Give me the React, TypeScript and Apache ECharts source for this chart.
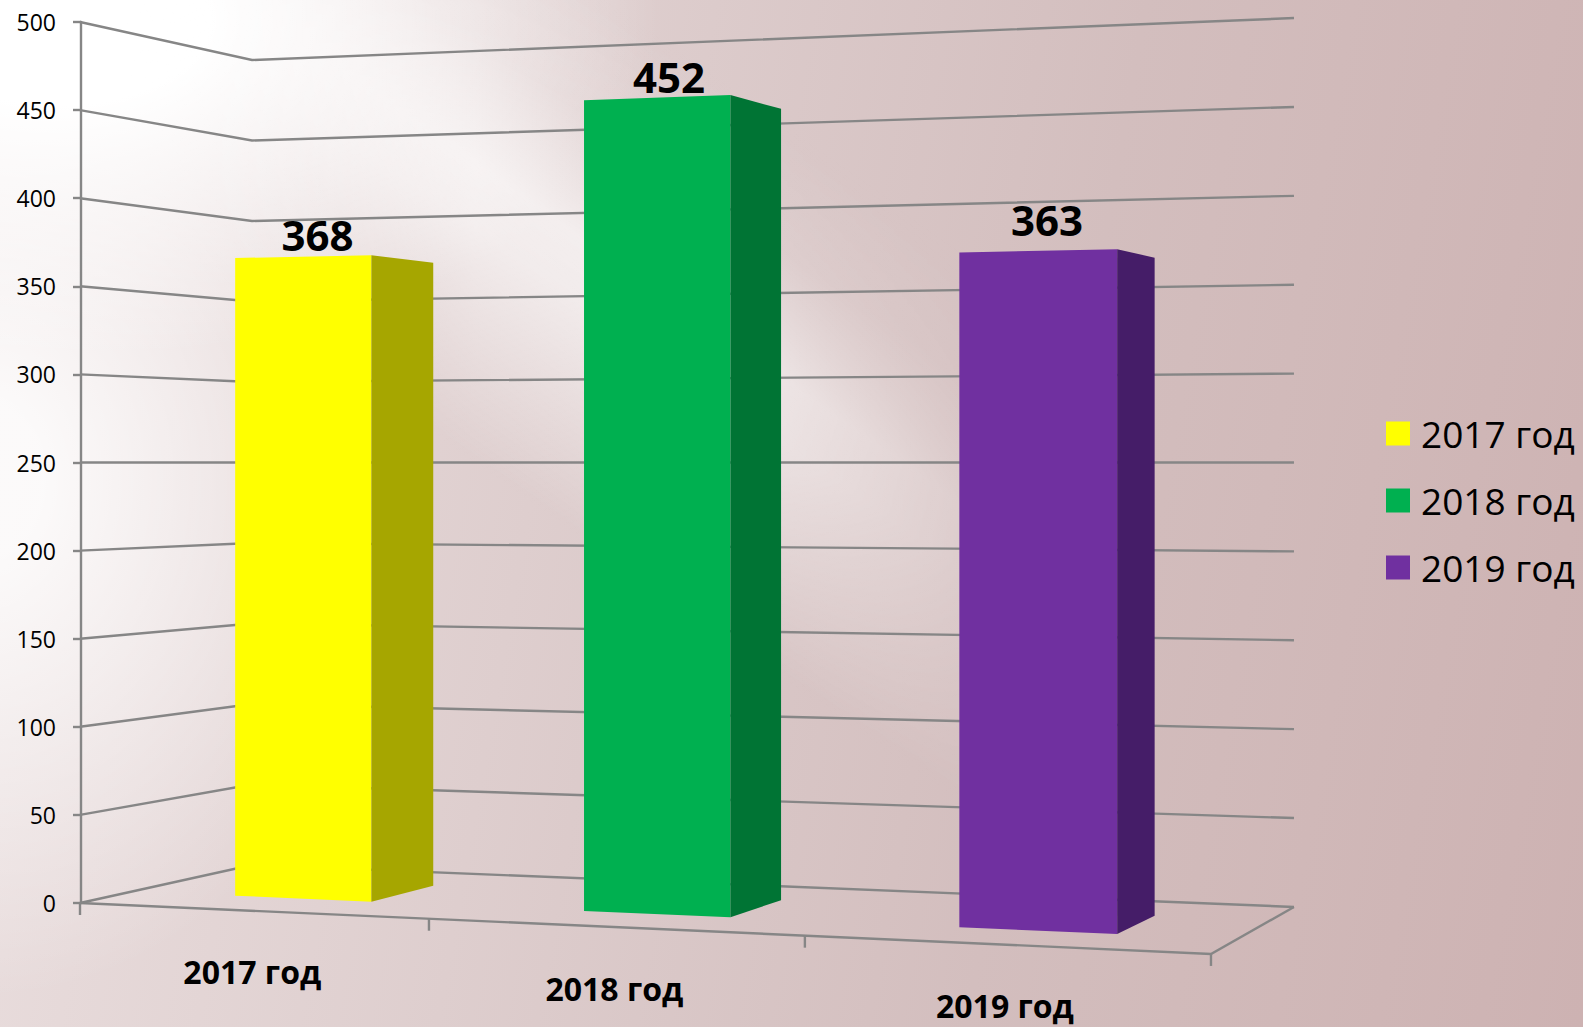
import React, { useEffect, useRef } from "react";
import * as echarts from "echarts";

const categories = ["2017 год", "2018 год", "2019 год"];
const seriesValues = [368, 452, 363];
const yTicks = [0, 50, 100, 150, 200, 250, 300, 350, 400, 450, 500];
const frontColors = ["#FFFF00", "#00B050", "#7030A0"];
const sideColors = ["#A6A600", "#007434", "#451D68"];

const W = 1583, H = 1027;
const GL = 81, GT = 22, GW = 1213, GH = 881;
const FONT = "'Open Sans', 'Noto Sans', sans-serif";
const LINE = "#868686";
const LINE_W = 2.4;
const LABEL_LIFT = [24, 24, 33];

// floor plane perspective (unit square onto screen), verticals stay vertical
function project(u: number, v: number, h: number) {
  const g = -0.1075, k = 0.094;
  const den = g * u + k * v + 1;
  const x = (1000.8 * u + 195.7 * v + 80) / den;
  const y0 = (-51.6 * u + 43.3 * v + 903) / den;
  const scale = 2 * y0 - 925;
  return [x, y0 - scale * h];
}

const BAR_HALF = 0.0665, BAR_SHIFT = 0.002, V_FRONT = 0.29, V_BACK = 0.69, V_LABEL = 0.38;

function heightOf(api: any, value: number) {
  return (GT + GH - api.coord([0, value])[1]) / GH;
}
function line(points: number[][]) {
  return { type: "polyline", shape: { points }, style: { stroke: LINE, lineWidth: LINE_W, fill: "none" }, silent: true };
}

function renderGridLine(_: any, api: any) {
  const h = heightOf(api, api.value(0));
  return line([project(0, 0, h), project(0, 1, h), project(1, 1, h)]);
}

function renderFloor(_: any, api: any) {
  const i = api.value(0);
  const u = i / 3;
  const p = project(u, 0, 0);
  return line([p, [p[0], p[1] + 12]]);
}

function renderBar(idx: number) {
  return (_: any, api: any) => {
    const value = api.value(1);
    const cx = api.coord([api.value(0), value]);
    const uc = (cx[0] - GL) / GW + BAR_SHIFT;
    const h = heightOf(api, value);
    const l = uc - BAR_HALF, r = uc + BAR_HALF;
    const top = project(uc, V_LABEL, h);
    return {
      type: "group",
      children: [
        {
          type: "polygon",
          shape: { points: [project(l, V_FRONT, 0), project(r, V_FRONT, 0), project(r, V_FRONT, h), project(l, V_FRONT, h)] },
          style: { fill: frontColors[idx] },
        },
        {
          type: "polygon",
          shape: { points: [project(r, V_FRONT, 0), project(r, V_BACK, 0), project(r, V_BACK, h), project(r, V_FRONT, h)] },
          style: { fill: sideColors[idx] },
        },
        {
          type: "text",
          style: {
            text: String(value),
            x: top[0],
            y: top[1] - LABEL_LIFT[idx],
            align: "center",
            verticalAlign: "middle",
            textAlign: "center",
            textVerticalAlign: "middle",
            font: `bold 42px ${FONT}`,
            fill: "#000",
          },
        },
      ],
    };
  };
}

function renderCategory(_: any, api: any) {
  const i = api.value(0);
  const cx = api.coord([i, 0]);
  const p = project((cx[0] - GL) / GW, 0, 0);
  return {
    type: "text",
    style: {
      text: categories[i],
      x: p[0] + 1,
      y: p[1] + 61,
      align: "center",
      verticalAlign: "middle",
      textAlign: "center",
      textVerticalAlign: "middle",
      font: `bold 32px ${FONT}`,
      fill: "#000",
    },
  };
}

export default function App() {
  const ref = useRef<HTMLDivElement>(null);
  useEffect(() => {
    const chart = echarts.init(ref.current!, undefined, { renderer: "svg" });
    chart.setOption({
      animation: false,
      backgroundColor: "transparent",
      grid: { left: GL, top: GT, width: GW, height: GH },
      legend: {
        data: categories,
        orient: "vertical",
        left: 1386,
        top: 415,
        padding: 0,
        itemWidth: 24,
        itemHeight: 24,
        itemGap: 30,
        icon: "rect",
        selectedMode: false,
        textStyle: { fontSize: 37, fontFamily: FONT, color: "#000", padding: [0, 0, 0, 6] },
      },
      xAxis: { type: "category", data: categories, show: false },
      yAxis: {
        type: "value",
        min: 0,
        max: 500,
        interval: 50,
        splitLine: { show: false },
        axisLine: { show: true, lineStyle: { color: LINE, width: LINE_W } },
        axisTick: { show: true, length: 8, lineStyle: { color: LINE, width: LINE_W } },
        axisLabel: { fontSize: 23, fontFamily: FONT, color: "#000", margin: 25 },
      },
      series: [
        {
          type: "custom", name: "grid", coordinateSystem: "cartesian2d", silent: true,
          data: yTicks.map((t) => [t]), encode: { y: 0 }, renderItem: renderGridLine, z: 1,
        },
        {
          type: "custom", name: "floorTicks", coordinateSystem: "cartesian2d", silent: true,
          data: [[0], [1], [2], [3]], renderItem: renderFloor, z: 1,
        },
        ...categories.map((name, i) => ({
          type: "custom", name, coordinateSystem: "cartesian2d", silent: true,
          itemStyle: { color: frontColors[i] },
          data: [[i, seriesValues[i]]], encode: { x: 0, y: 1 }, renderItem: renderBar(i), z: 3,
        })),
        {
          type: "custom", name: "categories", coordinateSystem: "cartesian2d", silent: true,
          data: categories.map((_, i) => [i]), renderItem: renderCategory, z: 4,
        },
      ],
      graphic: [
        {
          type: "polyline", z: 1, silent: true,
          shape: { points: [project(0, 0, 0), project(1, 0, 0), project(1, 1, 0)] },
          style: { stroke: LINE, lineWidth: LINE_W, fill: "none" },
        },
      ],
    });
    return () => chart.dispose();
  }, []);

  const streak =
    "linear-gradient(35deg, rgba(255,255,255,0) 42%, rgba(255,255,255,.6) 53%, rgba(255,255,255,.65) 56%, rgba(255,255,255,.15) 62%, rgba(255,255,255,0) 68%)";
  const mask = "linear-gradient(90deg, transparent 8%, #000 30%, #000 45%, transparent 68%)";
  return (
    <div
      style={{
        position: "absolute", left: 0, top: 0, width: W, height: H, overflow: "hidden",
        background:
          "radial-gradient(ellipse 600px 340px at 60px 20px, rgba(255,255,255,1) 25%, rgba(255,255,255,0) 100%)," +
          "radial-gradient(ellipse 420px 520px at -20px 480px, rgba(255,255,255,.85) 15%, rgba(255,255,255,0) 100%)," +
          "linear-gradient(100deg, #ebe0e0 0%, #decece 35%, #d3bebe 65%, #cdb2b2 100%)",
      }}
    >
      <div
        style={{
          position: "absolute", inset: 0, background: streak,
          WebkitMaskImage: mask,
          maskImage: mask,
        }}
      />
      <div ref={ref} style={{ position: "absolute", left: 0, top: 0, width: W, height: H }} />
    </div>
  );
}
